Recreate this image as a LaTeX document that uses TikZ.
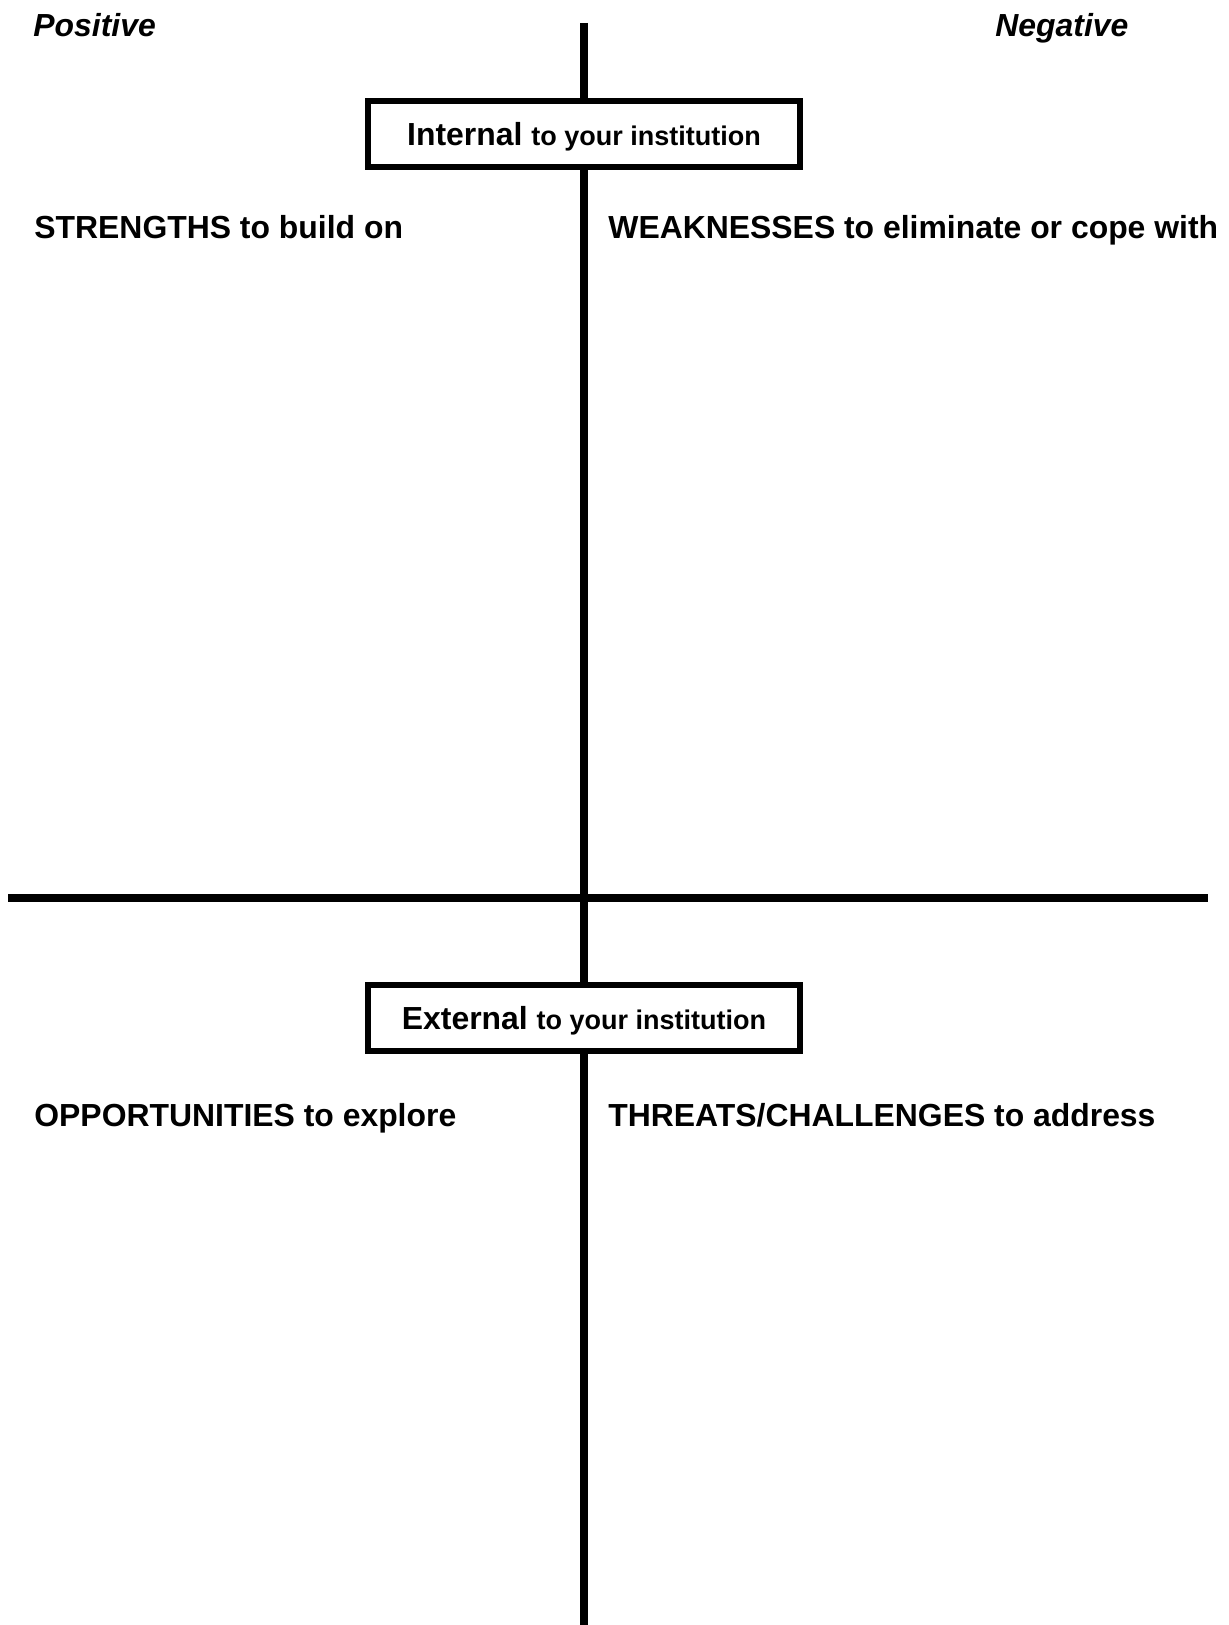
\documentclass[tikz,border=0pt]{standalone}
\usepackage{fontspec}
\setmainfont{Liberation Sans}

\begin{document}
\begin{tikzpicture}[x=0.5pt,y=-0.5pt,
    heading/.style={anchor=base west,inner sep=0pt,font=\fontsize{15.95}{19}\selectfont\bfseries},
    sidetag/.style={heading,font=\fontsize{15.95}{19}\selectfont\bfseries\itshape},
    tagbox/.style={draw,line width=3pt,fill=white,minimum width=216pt,minimum height=33pt,inner sep=0pt,text depth=0pt,font=\fontsize{15.95}{19}\selectfont\bfseries},
    axis/.style={line width=4pt}]
    \useasboundingbox (0,0) rectangle (1229,1625);
    % axis ends
    \coordinate (top) at (584,23);
    \coordinate (bot) at (584,1625);
    \coordinate (left) at (8,898);
    \coordinate (right) at (1208,898);
    % boxes on the vertical axis
    \node [tagbox] (internal) at (584,134) {Internal {\fontsize{13.5}{16}\selectfont to your institution}};
    \node [tagbox] (external) at (584,1018) {External {\fontsize{13.5}{16}\selectfont to your institution}};
    \draw [axis] (top) -- (internal);
    \draw [axis] (internal) -- (external);
    \draw [axis] (external) -- (bot);
    \draw [axis] (left) -- (right);
    % column tags
    \node [sidetag] (positive) at (33,37) {Positive};
    \node [sidetag] (negative) at (995,37) {Negative};
    % quadrant headings
    \node [heading] (strengths) at (34,239) {STRENGTHS to build on};
    \node [heading] (weaknesses) at (608,239) {WEAKNESSES to eliminate or cope with};
    \node [heading] (opportunities) at (34,1126) {OPPORTUNITIES to explore};
    \node [heading] (threats) at (608,1126) {THREATS/CHALLENGES to address};
\end{tikzpicture}
\end{document}
